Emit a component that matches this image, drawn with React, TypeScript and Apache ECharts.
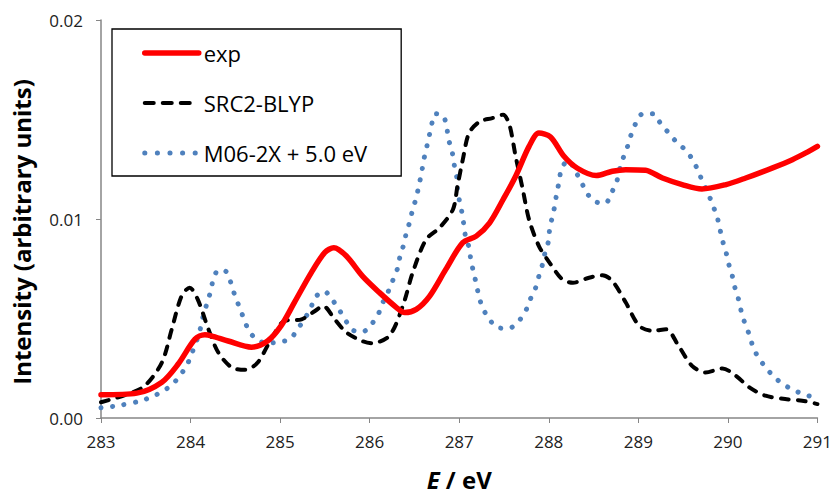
import React, { useEffect, useRef } from "react";
import * as echarts from "echarts";

// Energy (eV) and intensity (arbitrary units)
const expE = [283.0, 283.4, 283.68, 283.86, 284.05, 284.16, 284.23, 284.42, 284.68, 284.86, 285.01, 285.16, 285.35, 285.5, 285.6, 285.74, 285.92, 286.11, 286.3, 286.39, 286.52, 286.67, 286.85, 287.04, 287.19, 287.34, 287.49, 287.63, 287.78, 287.89, 288.02, 288.17, 288.32, 288.53, 288.71, 288.86, 289.08, 289.27, 289.49, 289.71, 289.98, 290.2, 290.5, 290.72, 290.87, 291.0];
const expI = [0.00117, 0.00125, 0.0018, 0.0027, 0.00396, 0.00418, 0.00413, 0.00387, 0.00356, 0.00387, 0.00463, 0.00581, 0.00732, 0.00832, 0.00856, 0.00814, 0.00713, 0.0063, 0.00555, 0.0053, 0.00546, 0.00613, 0.00747, 0.00881, 0.00914, 0.00981, 0.01098, 0.01215, 0.01365, 0.01432, 0.01412, 0.01315, 0.01255, 0.01218, 0.0124, 0.01248, 0.01245, 0.01206, 0.01173, 0.01151, 0.01173, 0.01206, 0.01257, 0.01298, 0.01332, 0.01365];

const srcE = [283.0, 283.3, 283.49, 283.68, 283.79, 283.9, 283.99, 284.08, 284.2, 284.31, 284.46, 284.61, 284.75, 284.9, 285.05, 285.24, 285.39, 285.48, 285.61, 285.74, 285.92, 286.02, 286.22, 286.37, 286.48, 286.63, 286.78, 286.93, 286.98, 287.04, 287.11, 287.23, 287.37, 287.49, 287.56, 287.63, 287.71, 287.78, 287.89, 288.01, 288.15, 288.27, 288.45, 288.6, 288.71, 288.86, 289.01, 289.16, 289.31, 289.45, 289.6, 289.75, 289.94, 290.09, 290.24, 290.42, 290.64, 290.83, 291.0];
const srcI = [0.00079, 0.0012, 0.00162, 0.00279, 0.00446, 0.00613, 0.00655, 0.00596, 0.00446, 0.00329, 0.00254, 0.00242, 0.00279, 0.00396, 0.00488, 0.00496, 0.00538, 0.00563, 0.00496, 0.0043, 0.00386, 0.00376, 0.00413, 0.00563, 0.0073, 0.00897, 0.00956, 0.01048, 0.01164, 0.01298, 0.01432, 0.0149, 0.01507, 0.01524, 0.01474, 0.01315, 0.01148, 0.00997, 0.00864, 0.0078, 0.00697, 0.0068, 0.00705, 0.00717, 0.00688, 0.0058, 0.00463, 0.00438, 0.00446, 0.00362, 0.00262, 0.00229, 0.00249, 0.00212, 0.00154, 0.00112, 0.00095, 0.00087, 0.0007];

const m06E = [283.0, 283.19, 283.45, 283.58, 283.7, 283.81, 283.9, 283.97, 284.02, 284.07, 284.11, 284.14, 284.18, 284.22, 284.25, 284.31, 284.4, 284.45, 284.49, 284.54, 284.59, 284.64, 284.72, 284.85, 284.98, 285.11, 285.19, 285.27, 285.34, 285.39, 285.49, 285.58, 285.66, 285.81, 285.92, 286.02, 286.1, 286.15, 286.21, 286.26, 286.31, 286.34, 286.38, 286.41, 286.45, 286.48, 286.52, 286.55, 286.58, 286.6, 286.63, 286.66, 286.69, 286.73, 286.82, 286.86, 286.88, 286.92, 286.94, 286.97, 286.98, 287.0, 287.03, 287.05, 287.07, 287.11, 287.13, 287.16, 287.19, 287.22, 287.26, 287.33, 287.42, 287.55, 287.66, 287.74, 287.79, 287.85, 287.89, 287.93, 287.96, 288.0, 288.01, 288.04, 288.07, 288.09, 288.12, 288.14, 288.22, 288.29, 288.36, 288.42, 288.51, 288.63, 288.7, 288.76, 288.79, 288.83, 288.88, 288.92, 288.97, 289.05, 289.17, 289.25, 289.34, 289.43, 289.53, 289.61, 289.67, 289.72, 289.78, 289.83, 289.88, 289.91, 289.94, 289.98, 290.01, 290.05, 290.08, 290.12, 290.15, 290.19, 290.24, 290.28, 290.34, 290.42, 290.51, 290.62, 290.74, 290.86, 291.0];
const m06I = [0.00052, 0.00062, 0.00087, 0.00109, 0.00137, 0.00175, 0.00224, 0.00276, 0.00332, 0.00391, 0.0045, 0.0051, 0.00571, 0.0063, 0.00688, 0.00743, 0.00735, 0.0068, 0.00622, 0.00563, 0.00505, 0.0045, 0.00401, 0.00376, 0.00382, 0.00396, 0.00443, 0.00496, 0.0055, 0.00605, 0.00638, 0.00596, 0.00543, 0.00443, 0.00433, 0.00471, 0.00526, 0.00583, 0.00638, 0.00693, 0.0075, 0.00814, 0.00871, 0.00931, 0.00989, 0.01048, 0.01106, 0.01169, 0.01232, 0.01288, 0.01348, 0.01407, 0.01469, 0.01529, 0.01519, 0.01462, 0.01402, 0.0134, 0.01282, 0.01218, 0.01156, 0.01098, 0.01034, 0.00976, 0.00914, 0.00856, 0.00794, 0.00733, 0.00675, 0.00613, 0.00555, 0.00501, 0.00456, 0.0045, 0.00485, 0.00536, 0.00593, 0.0065, 0.00713, 0.00772, 0.00834, 0.00894, 0.00951, 0.01011, 0.01073, 0.01134, 0.01195, 0.01252, 0.01295, 0.01245, 0.0119, 0.01134, 0.01089, 0.01078, 0.01131, 0.0119, 0.01248, 0.01305, 0.01365, 0.01424, 0.01479, 0.01529, 0.01529, 0.01479, 0.01432, 0.01385, 0.01345, 0.01295, 0.0124, 0.01184, 0.01128, 0.01071, 0.01011, 0.00952, 0.00892, 0.00832, 0.00773, 0.00713, 0.00653, 0.00595, 0.00535, 0.00476, 0.00418, 0.00359, 0.00304, 0.00256, 0.00209, 0.00169, 0.00139, 0.00117, 0.001];

const seriesNames = ["exp", "SRC2-BLYP", "M06-2X + 5.0 eV"];
const xTicks = { min: 283, max: 291, interval: 1 };
const yTicks = { min: 0, max: 0.02, interval: 0.01 };

const FONT = "'Open Sans', Lato, sans-serif";
const RED = "#ff0000";
const BLACK = "#000000";
const BLUE = "#4f81bd";

function pairs(xs: number[], ys: number[]) {
  return xs.map((x, i) => [x, ys[i]]);
}

export default function App() {
  const ref = useRef<HTMLDivElement>(null);
  useEffect(() => {
    if (!ref.current) return;
    const chart = echarts.init(ref.current, null, { renderer: "svg" });
    const hidden = { opacity: 0, color: "rgba(0,0,0,0)", borderWidth: 0 };
    chart.setOption({
      animation: false,
      backgroundColor: "#ffffff",
      textStyle: { fontFamily: FONT },
      grid: { left: 101, right: 15, top: 20, bottom: 77, containLabel: false },
      legend: {
        orient: "vertical",
        left: 112,
        top: 29,
        padding: [13, 34, 12, 30],
        borderColor: "#000000",
        borderWidth: 1.3,
        itemWidth: 54,
        itemHeight: 22,
        itemGap: 28,
        textStyle: { fontSize: 22, color: "#000000", fontFamily: FONT },
        itemStyle: hidden,
        data: [
          { name: seriesNames[0], itemStyle: hidden, lineStyle: { color: RED, width: 5.5, type: "solid", cap: "round" } },
          { name: seriesNames[1], itemStyle: hidden, lineStyle: { color: BLACK, width: 4, type: [9, 9], cap: "round" } },
          { name: seriesNames[2], itemStyle: hidden, lineStyle: { color: BLUE, width: 5, type: [0.1, 12.5], cap: "round" } },
        ],
      },
      xAxis: {
        type: "value",
        min: xTicks.min,
        max: xTicks.max,
        interval: xTicks.interval,
        name: "{i|E} / eV",
        nameLocation: "middle",
        nameGap: 49,
        nameTextStyle: {
          fontSize: 24,
          fontWeight: "bold",
          color: "#000000",
          fontFamily: FONT,
          rich: {
            i: { fontSize: 24, fontWeight: "bold", fontStyle: "italic", color: "#000000", fontFamily: FONT },
          },
        },
        axisLine: { lineStyle: { color: "#868686", width: 1.5 } },
        axisTick: { show: true, length: 5, lineStyle: { color: "#868686" } },
        axisLabel: { fontSize: 17, color: "#222222", margin: 15, fontFamily: FONT },
        splitLine: { show: false },
      },
      yAxis: {
        type: "value",
        min: yTicks.min,
        max: yTicks.max,
        interval: yTicks.interval,
        name: "Intensity (arbitrary units)",
        nameLocation: "middle",
        nameGap: 68,
        nameTextStyle: { fontSize: 24, fontWeight: "bold", color: "#000000", fontFamily: FONT, padding: [0, 26, 0, 0] },
        axisLine: { show: true, lineStyle: { color: "#868686", width: 1.5 } },
        axisTick: { show: true, length: 5, lineStyle: { color: "#868686" } },
        axisLabel: {
          fontSize: 17,
          color: "#222222",
          margin: 18,
          fontFamily: FONT,
          formatter: (v: number) => v.toFixed(2),
        },
        splitLine: { show: false },
      },
      series: [
        {
          name: seriesNames[0],
          type: "line",
          data: pairs(expE, expI),
          showSymbol: false,
          symbol: "none",
          smooth: 0.3,
          lineStyle: { color: RED, width: 5.5, cap: "round", join: "round" },
          itemStyle: { color: RED },
          z: 3,
        },
        {
          name: seriesNames[1],
          type: "line",
          data: pairs(srcE, srcI),
          showSymbol: false,
          symbol: "none",
          smooth: 0.3,
          lineStyle: { color: BLACK, width: 4, type: [8, 9], cap: "round", join: "round" },
          itemStyle: { color: BLACK },
          z: 2,
        },
        {
          name: seriesNames[2],
          type: "line",
          data: pairs(m06E, m06I),
          showSymbol: false,
          symbol: "none",
          smooth: 0.3,
          lineStyle: { color: BLUE, width: 5, type: [0.1, 11.5], cap: "round", join: "round" },
          itemStyle: { color: BLUE },
          z: 1,
        },
      ],
    });
    return () => chart.dispose();
  }, []);
  return <div ref={ref} style={{ width: 835, height: 496, position: "absolute", left: 0, top: 0 }} />;
}
